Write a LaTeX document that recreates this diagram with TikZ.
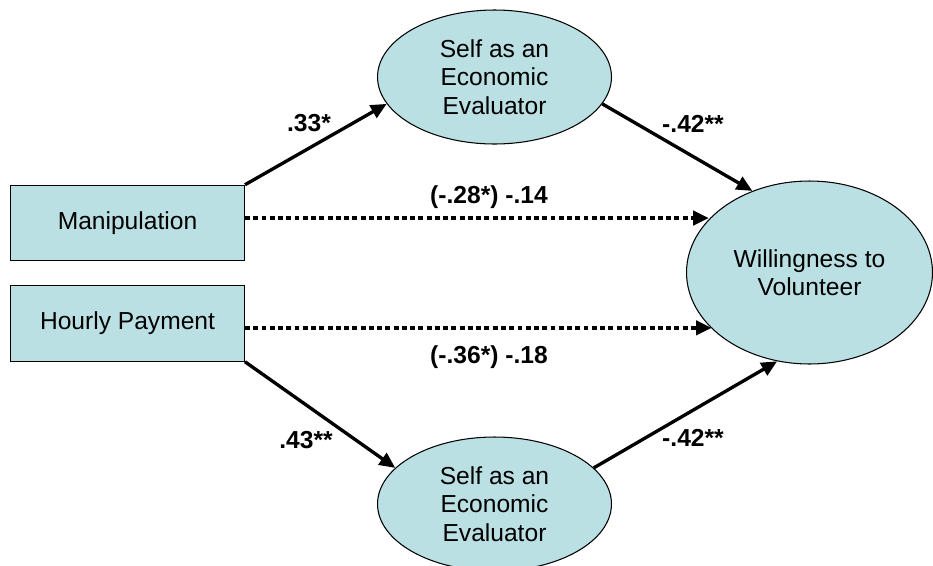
\documentclass[tikz,border=0pt]{standalone}
\usepackage{fontspec}
\setmainfont{Liberation Sans}
\usetikzlibrary{arrows.meta, shapes.geometric}
\definecolor{boxblue}{RGB}{187,224,227}
\tikzset{
  varbox/.style={draw, fill=boxblue, line width=0.6pt, minimum width=4.68cm, minimum height=1.51cm, inner sep=0pt, font=\fontsize{14}{16.2}\selectfont},
  varoval/.style={draw, ellipse, fill=boxblue, line width=0.6pt, inner sep=0pt, align=center, font=\fontsize{14}{16.2}\selectfont},
  effect/.style={line width=1.9pt, -{Triangle[length=9pt,width=8pt]}},
  direct/.style={line width=2.7pt, dash pattern=on 2.8pt off 1.9pt, -{Triangle[length=9pt,width=8pt]}},
  coef/.style={font=\fontsize{14}{16}\selectfont\bfseries}
}
\begin{document}
\begin{tikzpicture}[x=0.02cm, y=-0.02cm]
      \useasboundingbox (0, 0) rectangle (933, 565);
      % Variables:
      \node[varbox](manip) at (127.5, 223){Manipulation};
      \node[varbox](hourly) at (127.5, 323.5){Hourly Payment};
      \node[varoval, minimum width=4.68cm, minimum height=2.68cm](evaltop) at (494.5, 77){Self as an\\Economic\\Evaluator};
      \node[varoval, minimum width=4.68cm, minimum height=2.68cm](evalbot) at (494.5, 504){Self as an\\Economic\\Evaluator};
      \node[varoval, minimum width=4.92cm, minimum height=3.66cm](willing) at (809.5, 272.5){Willingness to\\Volunteer};
      \coordinate (mstart) at ([yshift=2.8pt]manip.east);
      \coordinate (hstart) at ([yshift=-2.5pt]hourly.east);
      % Paths:
      \draw[effect] (manip.north east) -- (evaltop.194);
      \draw[effect] (evaltop.346) -- (willing.125);
      \draw[effect] (hourly.south east) -- (evalbot.160);
      \draw[effect] (evalbot.20) -- (willing.250);
      \draw[direct] (mstart) -- (willing.152 |- mstart);
      \draw[direct] (hstart) -- (willing.210 |- hstart);
      % Coefficients:
      \node[coef](c1) at (309, 123){.33*};
      \node[coef](c2) at (693, 124){-.42**};
      \node[coef](c3) at (489, 197){(-.28*) -.14};
      \node[coef](c4) at (489, 357){(-.36*) -.18};
      \node[coef](c5) at (306, 440){.43**};
      \node[coef](c6) at (693, 438){-.42**};
\end{tikzpicture}
\end{document}
